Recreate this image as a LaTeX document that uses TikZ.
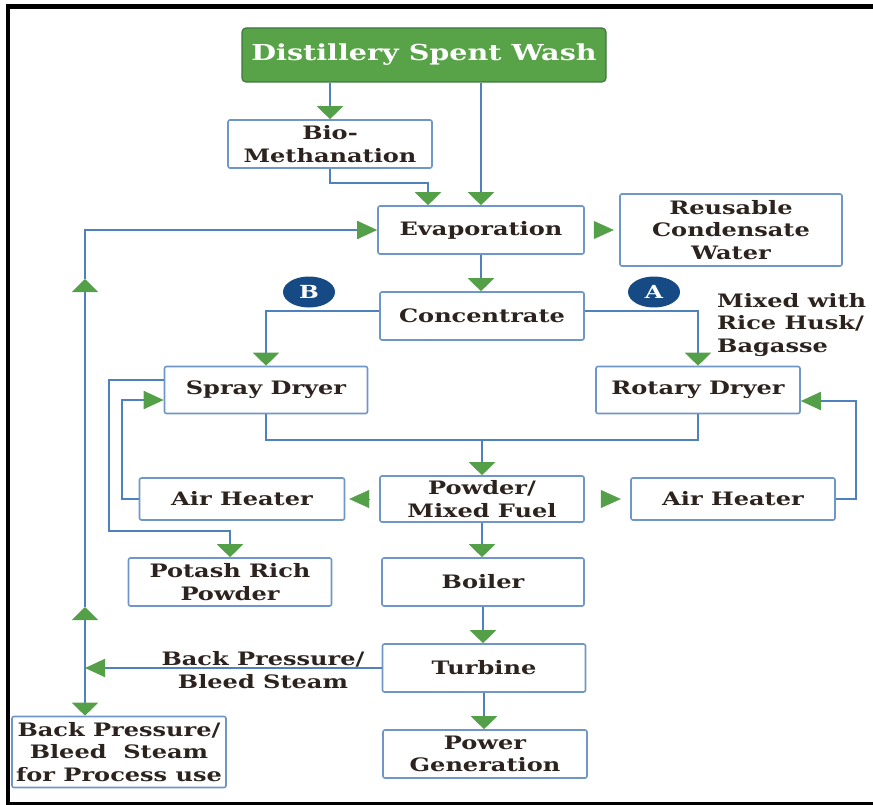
\documentclass[tikz,border=0pt]{standalone}
\usepackage{fontspec}
\setmainfont{DejaVu Serif}[FakeStretch=1.3]
\usetikzlibrary{arrows.meta,shapes.geometric}

\definecolor{flowblue}{RGB}{79,129,189}
\definecolor{boxblue}{RGB}{110,150,200}
\definecolor{tipgreen}{RGB}{84,160,72}
\definecolor{washgreen}{RGB}{88,162,72}
\definecolor{washedge}{RGB}{62,118,62}
\definecolor{markblue}{RGB}{22,74,132}
\definecolor{inktext}{RGB}{45,35,30}

\tikzset{
  stage/.style={rectangle, rounded corners=2pt, draw=boxblue, line width=1.6pt,
    fill=white, text=inktext, align=center, inner sep=0pt,
    font=\fontsize{18.5}{22.5}\selectfont\bfseries},
  source/.style={rectangle, rounded corners=4pt, draw=washedge, line width=1.2pt,
    fill=washgreen, text=white, inner sep=0pt,
    font=\fontsize{22}{26}\selectfont\bfseries},
  note/.style={text=inktext, inner sep=0pt,
    font=\fontsize{18.5}{22.5}\selectfont\bfseries},
  marker/.style={ellipse, fill=markblue, minimum width=52pt, minimum height=31pt,
    inner sep=0pt, text=white, font=\fontsize{18}{20}\selectfont\bfseries},
  flow/.style={draw=flowblue, line width=1.8pt},
  vtip/.style={-{Triangle[length=13pt,width=26pt,color=tipgreen]}},
  htip/.style={-{Triangle[length=20pt,width=18pt,color=tipgreen]}},
  gaptip/.style={draw=tipgreen, line width=0.4pt,
    -{Triangle[length=20pt,width=18pt,color=tipgreen]}}
}

\begin{document}
\begin{tikzpicture}[x=1pt, y=-1pt]
\useasboundingbox (0,0) rectangle (873,805);
% frame
\draw[line width=5pt] (6,6.5) -- (873,6.5);
\draw[line width=4pt] (8,4) -- (8,805);
\draw[line width=3pt] (6,803.5) -- (873,803.5);

% boxes
\node[source, minimum width=364pt, minimum height=54pt] (wash) at (424,55) {Distillery Spent Wash};
\node[stage, minimum width=204pt, minimum height=48pt] (bio) at (330,144) {Bio-\\Methanation};
\node[stage, minimum width=206pt, minimum height=48pt] (evap) at (481,230) {Evaporation};
\node[stage, minimum width=222pt, minimum height=72pt] (reuse) at (731,230) {Reusable\\Condensate\\Water};
\node[stage, minimum width=204pt, minimum height=48pt] (conc) at (482,316) {Concentrate};
\node[stage, minimum width=203pt, minimum height=47pt] (spray) at (266,390) {Spray Dryer};
\node[stage, minimum width=204pt, minimum height=47pt] (rotary) at (698,390) {Rotary Dryer};
\node[stage, minimum width=204pt, minimum height=46pt] (powder) at (482,499) {Powder/\\Mixed Fuel};
\node[stage, minimum width=205pt, minimum height=42pt] (heatL) at (242,499) {Air Heater};
\node[stage, minimum width=204pt, minimum height=42pt] (heatR) at (733,499) {Air Heater};
\node[stage, minimum width=203pt, minimum height=48pt] (potash) at (230,582) {Potash Rich\\Powder};
\node[stage, minimum width=202pt, minimum height=48pt] (boiler) at (483,582) {Boiler};
\node[stage, minimum width=203pt, minimum height=48pt] (turbine) at (484,668) {Turbine};
\node[stage, minimum width=204pt, minimum height=48pt] (power) at (485,754) {Power\\Generation};
\node[stage, minimum width=214pt, minimum height=71pt] (steam) at (119,752) {Back Pressure/\\Bleed~~Steam\\for Process use};

% labels
\node[marker] (markB) at (309,292) {B};
\node[marker] (markA) at (654,292) {A};
\node[note, align=left, anchor=west] (husk) at (717,325) {Mixed with\\Rice Husk/\\Bagasse};
\node[note, align=center] (bleed) at (263,670) {Back Pressure/\\Bleed Steam};

% connectors
\draw[flow, vtip] (wash.south -| bio.north) -- (bio.north);
\draw[flow, vtip] (wash.south -| evap.north) -- (evap.north);
\draw[flow, vtip] (bio.south) -- ++(0,14) -| ([xshift=-53pt]evap.north);
\draw[gaptip] ([xshift=9pt]evap.east) -- ([xshift=29pt]evap.east);
\draw[flow, vtip] (evap.south) -- (evap.south |- conc.north);
\draw[flow, vtip] ([yshift=5pt]conc.west) -| (spray.north);
\draw[flow, vtip] ([yshift=5pt]conc.east) -| (rotary.north);
\coordinate (merge) at (482,440);
\draw[flow] (spray.south) |- (merge) -| (rotary.south);
\draw[flow, vtip] (merge) -- (merge |- powder.north);
\draw[gaptip] ([xshift=-10pt]powder.west) -- ([xshift=-30pt]powder.west);
\draw[gaptip] ([xshift=16pt]powder.east) -- ([xshift=36pt]powder.east);
\draw[flow, htip] (heatL.west) -- ++(-17,0) |- ([yshift=-10pt]spray.west);
\draw[flow, vtip] ([yshift=10pt]spray.west) -- ++(-55,0) -- ++(0,151) -| (potash.north);
\draw[flow, htip] (heatR.east) -- ++(20,0) |- ([yshift=-11pt]rotary.east);
\draw[flow, vtip] (powder.south) -- (powder.south |- boiler.north);
\draw[flow, vtip] (boiler.south) -- (boiler.south |- turbine.north);
\draw[flow, vtip] (turbine.south) -- (turbine.south |- power.north);

% steam return
\coordinate (split) at (85,668);
\coordinate (riseA) at (85,607);
\coordinate (riseB) at (85,279);
\draw[flow, htip] (turbine.west) -- (split);
\draw[flow, vtip] (split) -- (split |- steam.north);
\draw[flow, vtip] (split) -- (riseA);
\draw[flow, vtip] (riseA) -- (riseB);
\draw[flow, htip] (riseB) |- (evap.west);
\end{tikzpicture}
\end{document}
